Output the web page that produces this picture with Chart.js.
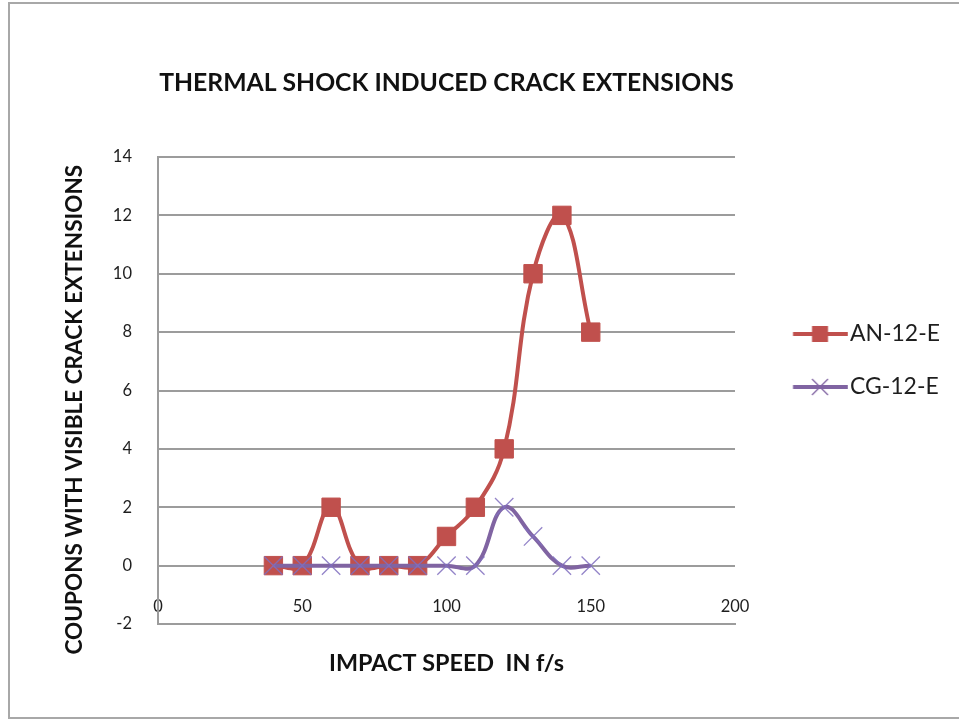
<!DOCTYPE html>
<html><head><meta charset="utf-8">
<script src="https://cdn.jsdelivr.net/npm/chart.js@4"></script>
<style>
html,body{margin:0;padding:0;background:#fff;overflow:hidden;}
#wrap{position:absolute;left:0;top:0;width:959px;height:719px;overflow:hidden;}
#frame{position:absolute;left:8px;top:2px;width:960px;height:717px;border:2px solid #a8a8a8;box-sizing:border-box;}
#c{position:absolute;left:0;top:0;}
</style></head>
<body><div id="wrap"><div id="frame"></div><canvas id="c" width="959" height="719"></canvas></div>
<script>
// ---- data ----
const titleText = 'THERMAL SHOCK INDUCED CRACK EXTENSIONS';
const xTitleText = 'IMPACT SPEED  IN f/s';
const yTitleText = 'COUPONS WITH VISIBLE CRACK EXTENSIONS';
const seriesNames = ['AN-12-E', 'CG-12-E'];
const speeds = [40, 50, 60, 70, 80, 90, 100, 110, 120, 130, 140, 150];
const an12e  = [0, 0, 2, 0, 0, 0, 1, 2, 4, 10, 12, 8];
const cg12e  = [0, 0, 0, 0, 0, 0, 0, 0, 2, 1, 0, 0];
const xTicks = [0, 50, 100, 150, 200];
const yTicks = [-2, 0, 2, 4, 6, 8, 10, 12, 14];

// ---- styling helpers ----
const FAM = 'Lato, "Open Sans", sans-serif';
const RED = '#C0504D', PURPLE = '#8064A2', GRID = '#9c9c9c', TXT = '#1e1e1e';
const mctx = document.createElement('canvas').getContext('2d');
function fit(text, weight, target) {
  mctx.font = weight + ' 100px ' + FAM;
  return 100 * target / mctx.measureText(text).width;
}
function textW(text, weight, size) {
  mctx.font = weight + ' ' + size + 'px ' + FAM;
  return mctx.measureText(text).width;
}
const AREA = {left: 158, right: 735, top: 157, bottom: 624};

const tSize = fit(titleText, 'bold', 575);
const xtSize = fit(xTitleText, 'bold', 235);
const ytSize = fit(yTitleText, 'bold', 490);
const lgSize = fit(seriesNames[0], 'normal', 90);
const tickSize = 16.5;

const tLH = tSize * 1.2, xtLH = xtSize * 1.2, ytLH = ytSize * 1.2, tickLH = tickSize * 1.2;
const tPadTop = 83 - tLH / 2, tPadBottom = AREA.top - tLH - tPadTop;

// y title centre shift (reference centre ~410 vs axis centre ~390)
const spaceW = textW(' ', 'bold', ytSize);
const yTitleShown = yTitleText + ' '.repeat(Math.max(0, Math.round(2 * (410 - (AREA.top + AREA.bottom) / 2) / spaceW)));

// legend geometry
const lgPad = 53 - lgSize;
const lgCursorX = AREA.right + lgPad;
const lgBoxW = 850 - lgSize / 2 - lgCursorX;
const lgCenter = lgCursorX + lgBoxW / 2;
const iconW = Math.ceil(2 * (848 - lgCenter));
const iconLeft = lgCenter - iconW / 2;
const lgTitleH = 334 - lgSize / 2 - lgPad - AREA.top;

function makeIcon(kind) {
  const c = document.createElement('canvas');
  c.width = iconW; c.height = 22;
  const g = c.getContext('2d');
  const cy = 11;
  g.lineCap = 'butt';
  g.strokeStyle = kind === 0 ? RED : PURPLE;
  g.lineWidth = 4;
  g.beginPath(); g.moveTo(793 - iconLeft, cy); g.lineTo(848 - iconLeft, cy); g.stroke();
  const mx = 820 - iconLeft;
  if (kind === 0) {
    g.fillStyle = RED; g.fillRect(mx - 8, cy - 8, 16, 16);
  } else {
    g.strokeStyle = PURPLE; g.lineWidth = 1.3;
    g.beginPath(); g.moveTo(mx - 8, cy - 8); g.lineTo(mx + 8, cy + 8);
    g.moveTo(mx - 8, cy + 8); g.lineTo(mx + 8, cy - 8); g.stroke();
  }
  return c;
}
const icons = [makeIcon(0), makeIcon(1)];

const toPts = (ys) => speeds.map((x, i) => ({x: x, y: ys[i]}));

const config = {
  type: 'line',
  data: {
    datasets: [
      {label: seriesNames[0], data: toPts(an12e), borderColor: RED, backgroundColor: RED,
       borderWidth: 4, tension: 0.4, pointStyle: 'rect', pointRadius: 13,
       pointBackgroundColor: RED, pointBorderColor: RED, pointBorderWidth: 1, order: 1},
      {label: seriesNames[1], data: toPts(cg12e), borderColor: PURPLE, backgroundColor: PURPLE,
       borderWidth: 4, tension: 0.4, pointStyle: 'crossRot', pointRadius: 13,
       pointBorderColor: 'rgba(128,110,190,0.85)', pointBorderWidth: 1.3, order: 0}
    ]
  },
  options: {
    responsive: false, animation: false, devicePixelRatio: 1,
    layout: {padding: {left: 0, top: 0, bottom: 0, right: 20}},
    plugins: {
      tooltip: {enabled: false},
      title: {display: true, text: titleText, fullSize: false, color: '#111',
              font: {family: FAM, size: tSize, weight: 'bold', lineHeight: 1.2},
              padding: {top: tPadTop, bottom: tPadBottom}},
      legend: {
        display: true, position: 'right', align: 'start', fullSize: false,
        title: {display: true, text: ' ', font: {size: 10, lineHeight: 1}, padding: {top: lgTitleH - 10, bottom: 0}},
        labels: {
          usePointStyle: true, pointStyleWidth: lgBoxW, padding: lgPad, color: TXT,
          font: {family: FAM, size: lgSize},
          generateLabels: (chart) => {
            const items = Chart.defaults.plugins.legend.labels.generateLabels(chart);
            items.sort((a, b) => a.datasetIndex - b.datasetIndex);
            items.forEach(it => { it.pointStyle = icons[it.datasetIndex]; });
            return items;
          }
        }
      }
    },
    scales: {
      x: {
        type: 'linear', position: 'bottom', min: xTicks[0], max: xTicks[xTicks.length - 1],
        afterBuildTicks: (s) => { s.ticks = xTicks.map(v => ({value: v})); },
        afterFit: (s) => { s.height = 719 - AREA.bottom; },
        grid: {display: false, drawTicks: false},
        border: {display: true, color: GRID, width: 2},
        ticks: {mirror: true, padding: AREA.bottom - 607 - tickLH / 2, color: TXT, maxRotation: 0, autoSkip: false,
                font: {family: FAM, size: tickSize}},
        title: {display: true, text: xTitleText, color: '#111',
                font: {family: FAM, size: xtSize, weight: 'bold', lineHeight: 1.2},
                padding: {top: 0, bottom: 719 - 663 - xtLH / 2}}
      },
      y: {
        type: 'linear', position: 'left', min: yTicks[0], max: yTicks[yTicks.length - 1],
        afterBuildTicks: (s) => { s.ticks = yTicks.map(v => ({value: v})); },
        afterFit: (s) => { s.width = AREA.left; },
        grid: {display: true, color: GRID, lineWidth: 2, drawTicks: false},
        border: {display: true, color: GRID, width: 2},
        ticks: {padding: 26, color: TXT, font: {family: FAM, size: tickSize}},
        title: {display: true, text: yTitleShown, color: '#111',
                font: {family: FAM, size: ytSize, weight: 'bold', lineHeight: 1.2},
                padding: {top: 75 - ytLH / 2, bottom: 0}}
      }
    }
  }
};

const chart = new Chart(document.getElementById('c'), config);
for (let k = 0; k < 3; k++) {
  const dx = AREA.right - chart.chartArea.right;
  if (Math.abs(dx) < 0.25) break;
  chart.options.layout.padding.right -= dx;
  chart.update();
}
</script>
</body></html>
